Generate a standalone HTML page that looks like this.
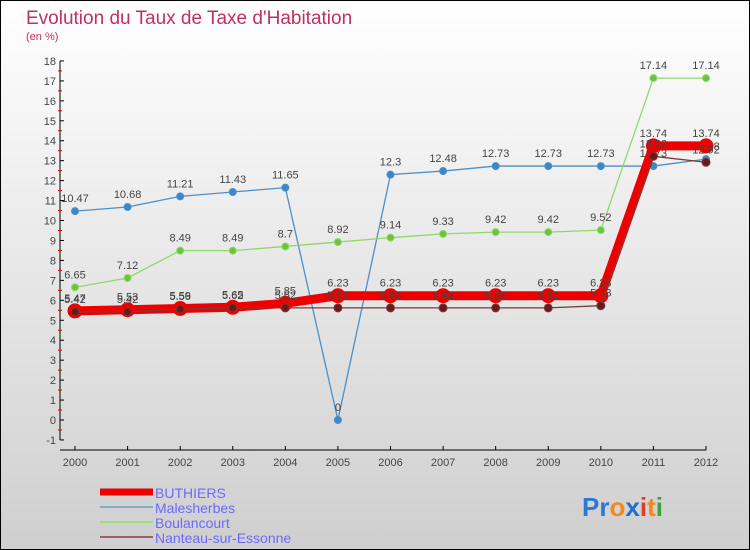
<!DOCTYPE html>
<html><head><meta charset="utf-8"><style>
body{margin:0;width:750px;height:550px;overflow:hidden;font-family:"Liberation Sans",sans-serif}
svg{display:block}
</style></head><body>
<svg id="chart" width="750" height="550">
<defs><linearGradient id="bg" x1="0" y1="0" x2="0" y2="1"><stop offset="0" stop-color="#ffffff"/><stop offset="1" stop-color="#cfcfcf"/></linearGradient></defs>
<rect x="0.5" y="0.5" width="749" height="549" fill="url(#bg)" stroke="#000"/>
<text x="26" y="24" font-size="19" fill="#c0305f">Evolution du Taux de Taxe d'Habitation</text>
<text x="26" y="40" font-size="11" fill="#c0305f">(en %)</text>
<g id="axes"></g><g id="series"></g><g id="legend"></g>
<text x="582" y="516" font-size="26" font-weight="bold"><tspan fill="#2a7ad5">Pr</tspan><tspan fill="#f08a1c">o</tspan><tspan fill="#1d6fd0">x</tspan><tspan fill="#e03a2a">i</tspan><tspan fill="#f08a1c">t</tspan><tspan fill="#3aa53a">i</tspan></text>
</svg>
<script>
const years=[2000,2001,2002,2003,2004,2005,2006,2007,2008,2009,2010,2011,2012];
const yTicks=[-1,0,1,2,3,4,5,6,7,8,9,10,11,12,13,14,15,16,17,18];
const buthiers=[5.47,5.53,5.59,5.65,5.85,6.23,6.23,6.23,6.23,6.23,6.23,13.74,13.74];
const malesherbes=[10.47,10.68,11.21,11.43,11.65,0,12.3,12.48,12.73,12.73,12.73,12.73,13.08];
const boulancourt=[6.65,7.12,8.49,8.49,8.7,8.92,9.14,9.33,9.42,9.42,9.52,17.14,17.14];
const nanteau=[5.42,5.42,5.56,5.62,5.62,5.62,5.62,5.62,5.62,5.62,5.73,13.22,12.92];
const NS="http://www.w3.org/2000/svg";
const X=i=>75+i*(706-75)/(years.length-1);
const Y=v=>420-v*(379/19);
function mk(t,a,p){const e=document.createElementNS(NS,t);for(const k in a)e.setAttribute(k,a[k]);p.appendChild(e);return e;}
const ax=document.getElementById('axes');
let l=mk('line',{x1:60,y1:Y(18),x2:60,y2:Y(-1),stroke:'#000'},ax);


l=mk('line',{x1:60,y1:450,x2:706,y2:450,stroke:'#000'},ax);


yTicks.forEach(v=>{
 mk('line',{x1:60,y1:Y(v),x2:64,y2:Y(v),stroke:'#000'},ax);
 if(v<18)mk('line',{x1:58,y1:Y(v+0.5),x2:62,y2:Y(v+0.5),stroke:'#e00'},ax);
 const t=mk('text',{x:56,y:Y(v)+4,'font-size':11,'text-anchor':'end',fill:'#444'},ax);t.textContent=v;
 
 
});
years.forEach((y,i)=>{
 mk('line',{x1:X(i),y1:446,x2:X(i),y2:450,stroke:'#000'},ax);
 const t=mk('text',{x:X(i),y:466,'font-size':11,'text-anchor':'middle',fill:'#444'},ax);t.textContent=y;
 
 
});
const sg=document.getElementById('series');
function draw(data,color,w,r,fill,name){
 const g=mk('g',{},sg);
 
 
 mk('polyline',{points:data.map((v,i)=>X(i)+','+Y(v)).join(' '),fill:'none',stroke:color,'stroke-width':w,'stroke-linejoin':'round'},g);
 data.forEach((v,i)=>{
  const c=mk('circle',{cx:X(i),cy:Y(v),r:r,fill:fill,stroke:color,'stroke-width':1},g);
  
  
  const t=mk('text',{x:X(i),y:Y(v)-9,'font-size':11,'text-anchor':'middle',fill:'#444'},g);t.textContent=v;
  
  
 });
}
draw(malesherbes,'#4a90c8',1.3,3.5,'#3b88c8','malesherbes-series');
draw(boulancourt,'#8fd86a',1.3,3.5,'#6cc33e','boulancourt-series');
draw(buthiers,'#ee0000',9,7,'#ee0000','buthiers-series');
draw(nanteau,'#7a3a3a',1.3,4,'#6b1a1a','nanteau-series');
const lg=document.getElementById('legend');
[['BUTHIERS','#ee0000',7],['Malesherbes','#80aad0',2],['Boulancourt','#9de07a',2],['Nanteau-sur-Essonne','#9a6060',2]].forEach((d,i)=>{
 const yy=492+i*15;
 const g=mk('g',{},lg);
 
 
 mk('line',{x1:100,y1:yy,x2:153,y2:yy,stroke:d[1],'stroke-width':d[2]},g);
 const t=mk('text',{x:155,y:yy+6,'font-size':14,fill:'#6a6aff'},g);t.textContent=d[0];
});
</script>
</body></html>
